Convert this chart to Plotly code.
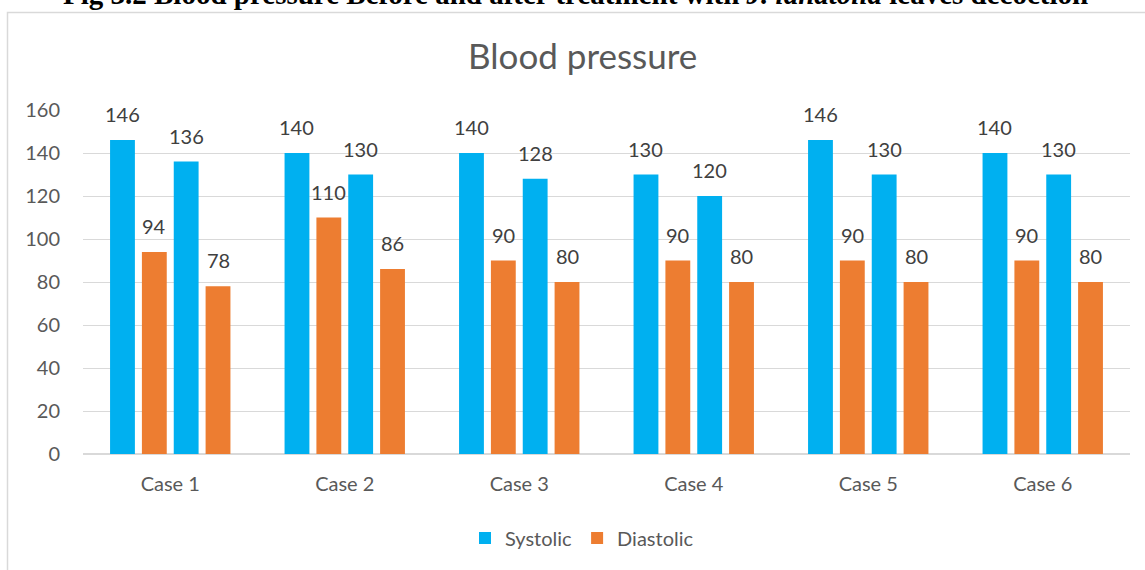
import plotly.graph_objects as go

cases = ["Case 1", "Case 2", "Case 3", "Case 4", "Case 5", "Case 6"]
systolic_before = [146, 140, 140, 130, 146, 140]
diastolic_before = [94, 110, 90, 90, 90, 90]
systolic_after = [136, 130, 128, 120, 130, 130]
diastolic_after = [78, 86, 80, 80, 80, 80]
y_ticks = [0, 20, 40, 60, 80, 100, 120, 140, 160]

BLUE = "#00B0F0"
ORANGE = "#ED7D31"
FONT = "Lato, 'Open Sans', sans-serif"
TXT = "#595959"

W, H = 1145, 570
L, R, T, B = 83, 15, 110, 116
pw, ph = W - L - R, H - T - B
BARGAP, GROUPGAP = 0.27, 0.22

def px_x(x):
    return (x - L) / pw

def px_y(y):
    return (H - B - y) / ph

fig = go.Figure()
series = [
    ("Systolic", systolic_before, BLUE, True),
    ("Diastolic", diastolic_before, ORANGE, True),
    ("Systolic", systolic_after, BLUE, False),
    ("Diastolic", diastolic_after, ORANGE, False),
]
n = len(series)
slot = (1 - BARGAP) / n
annotations = []
for k, (name, vals, col, show) in enumerate(series):
    fig.add_trace(go.Bar(
        x=list(range(len(cases))), y=vals, name=name, marker_color=col, marker_line_width=0,
        showlegend=show,
    ))
    off = (k - (n - 1) / 2) * slot
    for i, v in enumerate(vals):
        annotations.append(dict(
            x=i + off, y=v, xref="x", yref="y", text=str(v), showarrow=False,
            xanchor="center", yanchor="bottom", yshift=12,
            font=dict(size=20, color="#404040", family=FONT),
        ))

annotations += [
    dict(text="Blood pressure", x=px_x(582), y=px_y(55), xref="paper", yref="paper",
         xanchor="center", yanchor="middle", showarrow=False,
         font=dict(size=35, color=TXT, family=FONT)),
    dict(text="<b>Fig 3.2 Blood pressure Before and after treatment with <i>J. lanatolia</i> leaves decoction</b>",
         x=px_x(575), y=px_y(-6), xref="paper", yref="paper",
         xanchor="center", yanchor="middle", showarrow=False,
         font=dict(size=29, color="black", family="'Liberation Serif', 'Times New Roman', serif")),
]

fig.update_layout(
    width=W, height=H,
    margin=dict(l=L, r=R, t=T, b=B, autoexpand=False),
    paper_bgcolor="white", plot_bgcolor="white",
    barmode="group", bargap=BARGAP, bargroupgap=GROUPGAP,
    font=dict(family=FONT, color=TXT, size=20),
    showlegend=True,
    legend=dict(orientation="h", x=px_x(582), xanchor="center", y=px_y(538), yanchor="middle",
                font=dict(size=20, color=TXT, family=FONT), itemwidth=30, traceorder="normal"),
    annotations=annotations,
    shapes=[
        dict(type="rect", xref="paper", yref="paper",
             x0=px_x(7.5), x1=px_x(1160), y0=px_y(12.5), y1=px_y(600),
             line=dict(color="#d9d9d9", width=1.5), fillcolor="rgba(0,0,0,0)", layer="below"),
    ],
)
fig.update_yaxes(range=[0, 160], tickvals=y_ticks, showgrid=True, gridcolor="#d9d9d9",
                 gridwidth=1, zeroline=True, zerolinecolor="#d9d9d9", showline=False,
                 ticks="", ticklabelstandoff=22, tickfont=dict(size=20, color=TXT))
fig.update_xaxes(tickvals=list(range(len(cases))), ticktext=cases, range=[-0.5, len(cases) - 0.5],
                 showgrid=False, showline=False, ticks="", ticklabelstandoff=16,
                 tickfont=dict(size=20, color=TXT))

fig.write_html("out.html", config={"displayModeBar": False},
               post_script="document.body.style.margin='0';document.body.style.overflow='hidden';")
